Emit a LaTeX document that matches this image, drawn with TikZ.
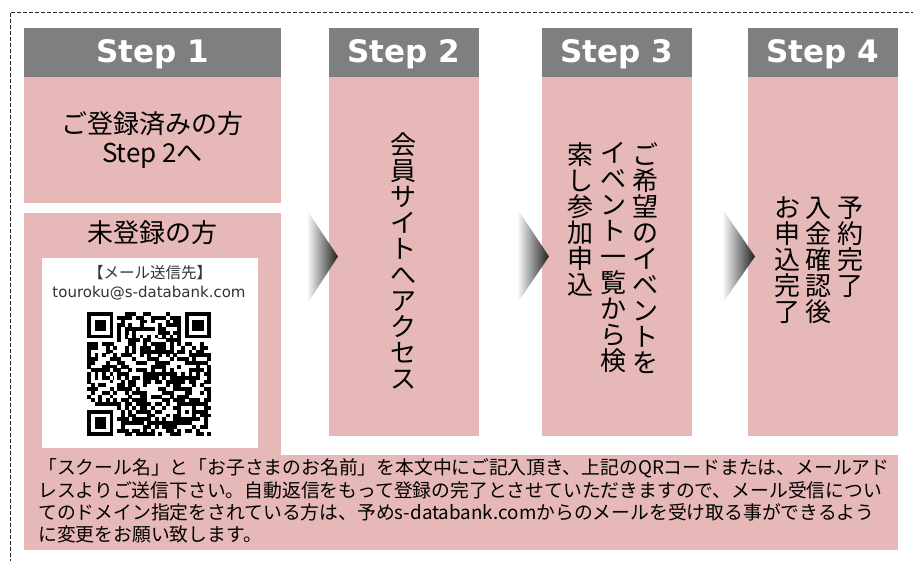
\documentclass[tikz,border=0pt]{standalone}
\usepackage{fontspec}
\setmainfont{Noto Sans CJK JP}
\newfontfamily\hdfont{DejaVu Sans}
\newfontfamily\mailfont{DejaVu Sans}
\definecolor{boxpink}{HTML}{E6B8B7}
\definecolor{headgray}{HTML}{7F7F7F}
\definecolor{mailgray}{HTML}{333333}
\pgfdeclarehorizontalshading{chevsh}{100bp}{color(0bp)=(white); color(25bp)=(white); color(36bp)=(white); color(56bp)=(black!45); color(75bp)=(black!88); color(100bp)=(black!88)}
\tikzset{
  panel/.style={fill=boxpink, draw=none, inner sep=0pt, outer sep=0pt},
  headbox/.style={fill=headgray, draw=none, inner sep=0pt, outer sep=0pt, minimum height=49pt},
  headtext/.style={text=white, font=\hdfont\bfseries\fontsize{31}{31}\selectfont, inner sep=0pt, anchor=base},
  jtext/.style={font=\fontsize{26}{26}\selectfont, inner sep=0pt, anchor=base},
  vcol/.style={font=\fontsize{26}{26}\selectfont, inner sep=0pt, anchor=north, align=center},
  notetext/.style={font=\fontsize{18.8}{22}\selectfont, inner sep=0pt, anchor=base west},
  chev/.style={shading=chevsh, draw=none},
}
\begin{document}
\begin{tikzpicture}[x=1pt, y=-1pt]
\useasboundingbox (0,0) rectangle (913,560);
\clip (0,0) rectangle (913,560);
% dashed frame
\draw[dash pattern=on 4pt off 2pt, line width=1pt, black!85] (10,12.5) rectangle (930,580);

% Step 1
\node[headbox, minimum width=257pt] (s1head) at (152.5,52.5) {};
\node[headtext] (s1label) at (152.5,62) {Step 1};
\node[panel, minimum width=257pt, minimum height=126pt] (s1top) at (152.5,140) {};
\node[panel, minimum width=257pt, minimum height=243pt] (s1low) at (152.5,334.5) {};
\node[panel, minimum width=874pt, minimum height=95pt] (note) at (461,502.5) {};
\node[jtext] (t1a) at (152.5,133) {ご登録済みの方};
\node[jtext] (t1b) at (152.5,162) {Step 2へ};
\node[jtext] (t1c) at (152.5,242) {未登録の方};
\node[fill=white, draw=none, inner sep=0pt, minimum width=216pt, minimum height=190pt] (qrbox) at (150,353) {};
\node[font=\fontsize{15.5}{15.5}\selectfont, text=mailgray, inner sep=0pt, anchor=base] (mlabel) at (150,278) {【メール送信先】};
\node[font=\mailfont\fontsize{15}{15}\selectfont, text=mailgray, inner sep=0pt, anchor=base] (maddr) at (149,297) {touroku@s-databank.com};

% QR code (pattern)
\begin{scope}[shift={(87pt,-312pt)}, x=3.76pt, y=-3.76pt]
  \pgfmathsetseed{4242}
  \foreach \i in {0,...,32}{
    \foreach \j in {0,...,32}{
      \pgfmathtruncatemacro\qb{rnd<0.55}
      \ifnum\qb=1 \fill[black] (\i,\j) rectangle ++(1.05,1.05);\fi
    }
  }
  % finder patterns
  \foreach \a/\b in {0/0,25/0,0/25}{
    \fill[white] (\a,\b) rectangle ++(8,8);
  }
  \foreach \a/\b in {0/0,26/0,0/26}{
    \fill[black] (\a,\b) rectangle ++(7,7);
    \fill[white] (\a+1,\b+1) rectangle ++(5,5);
    \fill[black] (\a+2,\b+2) rectangle ++(3,3);
  }
  % alignment pattern
  \fill[black] (24,24) rectangle ++(5,5);
  \fill[white] (25,25) rectangle ++(3,3);
  \fill[black] (26,26) rectangle ++(1,1);
  % timing patterns
  \foreach \k in {8,...,24}{
    \pgfmathtruncatemacro\od{mod(\k,2)}
    \ifnum\od=0
      \fill[black] (\k,6) rectangle ++(1,1);
      \fill[black] (6,\k) rectangle ++(1,1);
    \else
      \fill[white] (\k,6) rectangle ++(1,1);
      \fill[white] (6,\k) rectangle ++(1,1);
    \fi
  }
\end{scope}

% Step 2
\node[headbox, minimum width=150pt] (s2head) at (404,52.5) {};
\node[headtext] (s2label) at (404,62) {Step 2};
\node[panel, minimum width=150pt, minimum height=359pt] (s2body) at (404,256.5) {};
\node[vcol] (c2a) at (403,132) {会\\員\\サ\\イ\\ト\\へ\\ア\\ク\\セ\\ス};

% Step 3
\node[headbox, minimum width=150pt] (s3head) at (617,52.5) {};
\node[headtext] (s3label) at (617,62) {Step 3};
\node[panel, minimum width=150pt, minimum height=359pt] (s3body) at (617,256.5) {};
\node[vcol] (c3a) at (645,142) {ご\\希\\望\\の\\イ\\ベ\\ン\\ト\\を};
\node[vcol] (c3b) at (613,142) {イ\\ベ\\ン\\ト\\一\\覧\\か\\ら\\検};
\node[vcol] (c3c) at (580,142) {索\\し\\参\\加\\申\\込};

% Step 4
\node[headbox, minimum width=150pt] (s4head) at (823,52.5) {};
\node[headtext] (s4label) at (823,62) {Step 4};
\node[panel, minimum width=150pt, minimum height=359pt] (s4body) at (823,256.5) {};
\node[vcol] (c4a) at (850,197) {予\\約\\完\\了};
\node[vcol] (c4b) at (818,197) {入\\金\\確\\認\\後};
\node[vcol] (c4c) at (787,197) {お\\申\\込\\完\\了};

% chevrons
\path[chev] (298,197) -- (338,256.5) -- (298,318) -- cycle;
\path[chev] (508,195) -- (549,256.5) -- (508,317) -- cycle;
\path[chev] (713,195) -- (755,256.5) -- (713,317) -- cycle;

% note text
\node[notetext] (n1) at (38,474) {「スクール名」と「お子さまのお名前」を本文中にご記入頂き、上記のQRコードまたは、メールアド};
\node[notetext] (n2) at (38,497) {レスよりご送信下さい。自動返信をもって登録の完了とさせていただきますので、メール受信につい};
\node[notetext] (n3) at (38,519) {てのドメイン指定をされている方は、予めs-databank.comからのメールを受け取る事ができるよう};
\node[notetext] (n4) at (38,541) {に変更をお願い致します。};
\end{tikzpicture}
\end{document}
